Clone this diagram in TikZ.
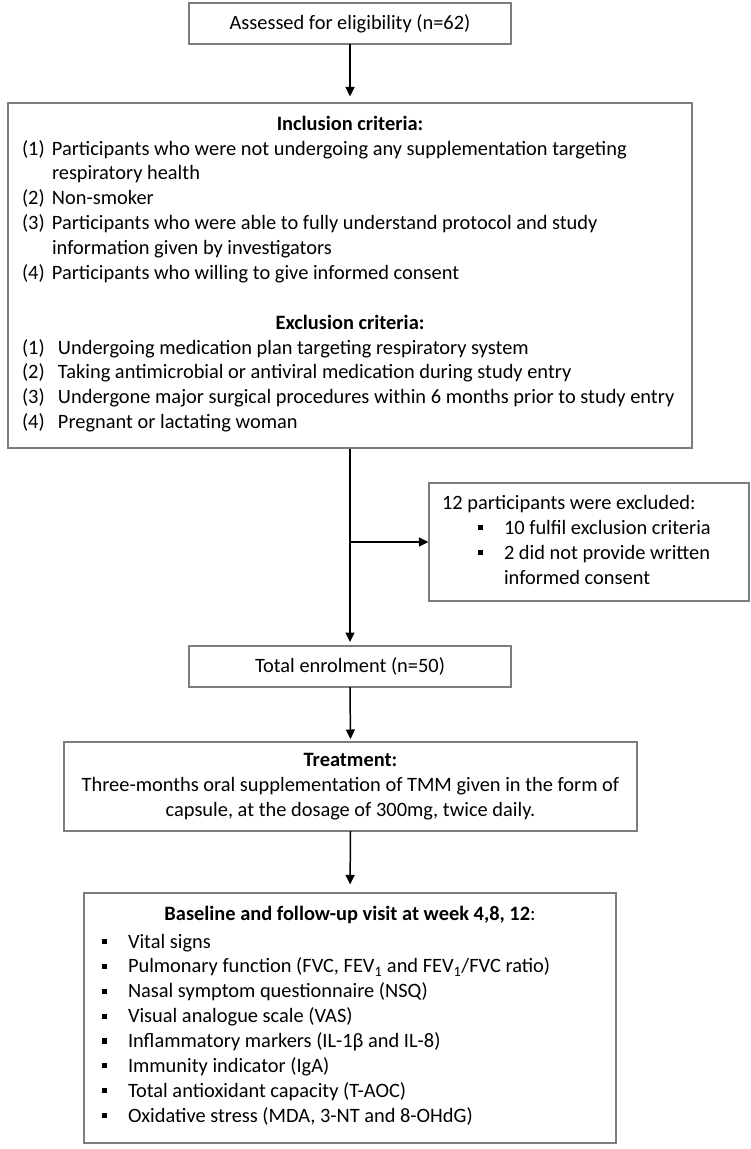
\documentclass[tikz,border=0pt]{standalone}
\usepackage{fontspec}
\setmainfont{Carlito}
\usetikzlibrary{arrows.meta}
\definecolor{boxgrey}{RGB}{125,125,125}
\newcommand{\sqbul}{\raisebox{0.2em}{\rule{0.24em}{0.25em}}}
\begin{document}
\begin{tikzpicture}[x=1pt,y=-1pt,
  box/.style={draw=boxgrey, line width=1.1pt, rectangle, inner sep=0pt},
  txt/.style={inner sep=0pt, outer sep=0pt, font=\fontsize{20.4}{24.9}\selectfont},
  arr/.style={line width=1.5pt, -{Triangle[length=9.5pt,width=9pt]}},
]
\fill[white] (0,0) rectangle (751,1149);
\useasboundingbox (0,0) rectangle (751,1149);

% Box 1
\node[box, txt, minimum width=322pt, minimum height=41pt] (b1) at (350,23.5) {Assessed for eligibility (n=62)};

% Box 2
\node[box, minimum width=684pt, minimum height=345pt] (b2) at (350,275.5) {};
\node[txt, anchor=base, font=\fontsize{20.4}{24.9}\selectfont\bfseries] (inch) at (350,130) {Inclusion criteria:};
\node[txt, anchor=base west] (incl) at (22,155) {\begin{tabular}[t]{@{}p{30pt}@{}l@{}}
(1)&Participants who were not undergoing any supplementation targeting\\
&respiratory health\\
(2)&Non-smoker\\
(3)&Participants who were able to fully understand protocol and study\\
&information given by investigators\\
(4)&Participants who willing to give informed consent
\end{tabular}};
\node[txt, anchor=base, font=\fontsize{20.4}{24.9}\selectfont\bfseries] (exch) at (350,329) {Exclusion criteria:};
\node[txt, anchor=base west] (excl) at (22,354) {\begin{tabular}[t]{@{}p{36pt}@{}l@{}}
(1)&Undergoing medication plan targeting respiratory system\\
(2)&Taking antimicrobial or antiviral medication during study entry\\
(3)&Undergone major surgical procedures within 6 months prior to study entry\\
(4)&Pregnant or lactating woman
\end{tabular}};

% Excluded box
\node[box, minimum width=320pt, minimum height=118pt] (b6) at (589,542) {};
\node[txt, anchor=base west] (exh) at (442,509) {12 participants were excluded:};
\node[txt, anchor=base west] (exl) at (478,534.5) {\begin{tabular}[t]{@{}p{26pt}@{}l@{}}
\sqbul&10 fulfil exclusion criteria\\
\sqbul&2 did not provide written\\
&informed consent
\end{tabular}};

% Box 3
\node[box, txt, minimum width=322pt, minimum height=41pt] (b3) at (350,666.5) {Total enrolment (n=50)};

% Box 4
\node[box, txt, minimum width=573pt, minimum height=89pt, align=center] (b4) at (350.5,786.5) {\textbf{Treatment:}\\Three-months oral supplementation of TMM given in the form of\\capsule, at the dosage of 300mg, twice daily.};

% Box 5
\node[box, minimum width=532pt, minimum height=250pt] (b5) at (350,1018) {};
\node[txt, anchor=base] (b5h) at (350,920) {\textbf{Baseline and follow-up visit at week 4,8, 12}:};
\node[txt, anchor=base west] (b5l) at (102,948) {\begin{tabular}[t]{@{}p{26pt}@{}l@{}}
\sqbul&Vital signs\\
\sqbul&Pulmonary function (FVC, FEV\textsubscript{1} and FEV\textsubscript{1}/FVC ratio)\\
\sqbul&Nasal symptom questionnaire (NSQ)\\
\sqbul&Visual analogue scale (VAS)\\
\sqbul&Inflammatory markers (IL-1β and IL-8)\\
\sqbul&Immunity indicator (IgA)\\
\sqbul&Total antioxidant capacity (T-AOC)\\
\sqbul&Oxidative stress (MDA, 3-NT and 8-OHdG)
\end{tabular}};

% Connectors
\draw[arr, shorten >=6pt] (b1.south) -- (b2.north);
\draw[arr, shorten >=4pt] (b2.south) -- (b3.north);
\coordinate (j) at (b2.south |- b6.west);
\draw[arr] (j) -- (b6.west);
\draw[arr, shorten >=3pt] (b3.south) -- (b4.north);
\draw[arr, shorten >=8pt] (b4.south) -- (b5.north);
\end{tikzpicture}
\end{document}
